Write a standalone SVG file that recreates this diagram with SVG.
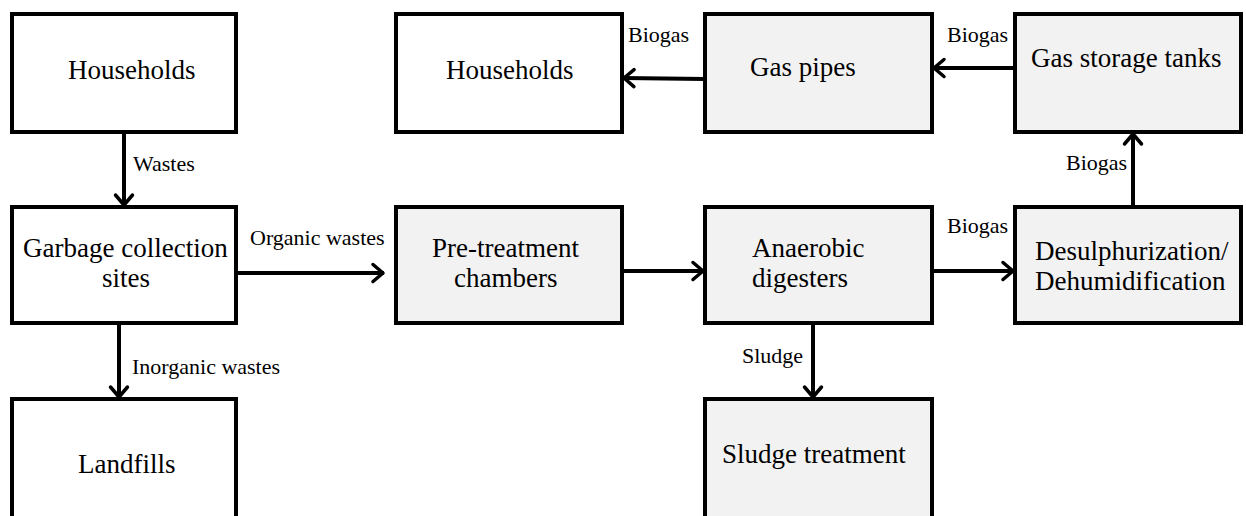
<svg xmlns="http://www.w3.org/2000/svg" width="1246" height="516" viewBox="0 0 1246 516">
<style>
.box{stroke:#000;stroke-width:4;}
.w{fill:#fff;}
.g{fill:#f2f2f2;}
.t{font-family:'Liberation Serif','Times New Roman','DejaVu Serif',serif;font-size:27px;fill:#000;}
.l{font-family:'Liberation Serif','Times New Roman','DejaVu Serif',serif;font-size:22px;fill:#000;}
.c{stroke:#000;stroke-width:4;fill:none;}
</style>
<defs>
<marker id="ah" markerUnits="userSpaceOnUse" markerWidth="24" markerHeight="24" viewBox="0 0 24 24" refX="20" refY="12" orient="auto">
<path d="M9,3.5 L19,12 L9,20.5" fill="none" stroke="#000" stroke-width="3.5" stroke-linecap="round" stroke-linejoin="round"/>
</marker>
</defs>
<rect width="1246" height="516" fill="#fff"/>
<g id="connectors">
<line class="c" x1="124" y1="132" x2="124" y2="206" marker-end="url(#ah)"/>
<line class="c" x1="119" y1="323" x2="119" y2="398" marker-end="url(#ah)"/>
<line class="c" x1="236" y1="273" x2="384" y2="273" marker-end="url(#ah)"/>
<line class="c" x1="622" y1="271" x2="704" y2="271" marker-end="url(#ah)"/>
<line class="c" x1="932" y1="271" x2="1014" y2="271" marker-end="url(#ah)"/>
<line class="c" x1="813" y1="323" x2="813" y2="398" marker-end="url(#ah)"/>
<line class="c" x1="1133" y1="207" x2="1133" y2="133" marker-end="url(#ah)"/>
<line class="c" x1="1015" y1="68" x2="933" y2="68" marker-end="url(#ah)"/>
<line class="c" x1="705" y1="79" x2="623" y2="78" marker-end="url(#ah)"/>
<text class="l" x="133" y="171">Wastes</text>
<text class="l" x="250" y="245">Organic wastes</text>
<text class="l" x="132" y="374">Inorganic wastes</text>
<text class="l" x="628" y="42">Biogas</text>
<text class="l" x="947" y="42">Biogas</text>
<text class="l" x="1066" y="170">Biogas</text>
<text class="l" x="947" y="233">Biogas</text>
<text class="l" x="742" y="363">Sludge</text>
</g>
<g id="households1">
<rect class="box w" x="12" y="14" width="224" height="118"/>
<text class="t" x="68" y="79">Households</text>
</g>
<g id="garbage">
<rect class="box w" x="12" y="207" width="224" height="116"/>
<text class="t" x="23" y="257">Garbage collection</text>
<text class="t" x="102" y="287">sites</text>
</g>
<g id="landfills">
<rect class="box w" x="12" y="399" width="224" height="130"/>
<text class="t" x="78" y="473">Landfills</text>
</g>
<g id="households2">
<rect class="box w" x="396" y="14" width="226" height="118"/>
<text class="t" x="446" y="79">Households</text>
</g>
<g id="gaspipes">
<rect class="box g" x="705" y="14" width="227" height="118"/>
<text class="t" x="750" y="76">Gas pipes</text>
</g>
<g id="gasstorage">
<rect class="box g" x="1015" y="14" width="226" height="118"/>
<text class="t" x="1031" y="67">Gas storage tanks</text>
</g>
<g id="pretreatment">
<rect class="box g" x="396" y="207" width="226" height="116"/>
<text class="t" x="432" y="257">Pre-treatment</text>
<text class="t" x="454" y="287">chambers</text>
</g>
<g id="anaerobic">
<rect class="box g" x="705" y="207" width="227" height="116"/>
<text class="t" x="752" y="257">Anaerobic</text>
<text class="t" x="752" y="287">digesters</text>
</g>
<g id="desulph">
<rect class="box g" x="1015" y="207" width="226" height="116"/>
<text class="t" x="1035" y="260">Desulphurization/</text>
<text class="t" x="1035" y="290">Dehumidification</text>
</g>
<g id="sludgetreatment">
<rect class="box g" x="705" y="399" width="227" height="130"/>
<text class="t" x="722" y="463">Sludge treatment</text>
</g>
</svg>
